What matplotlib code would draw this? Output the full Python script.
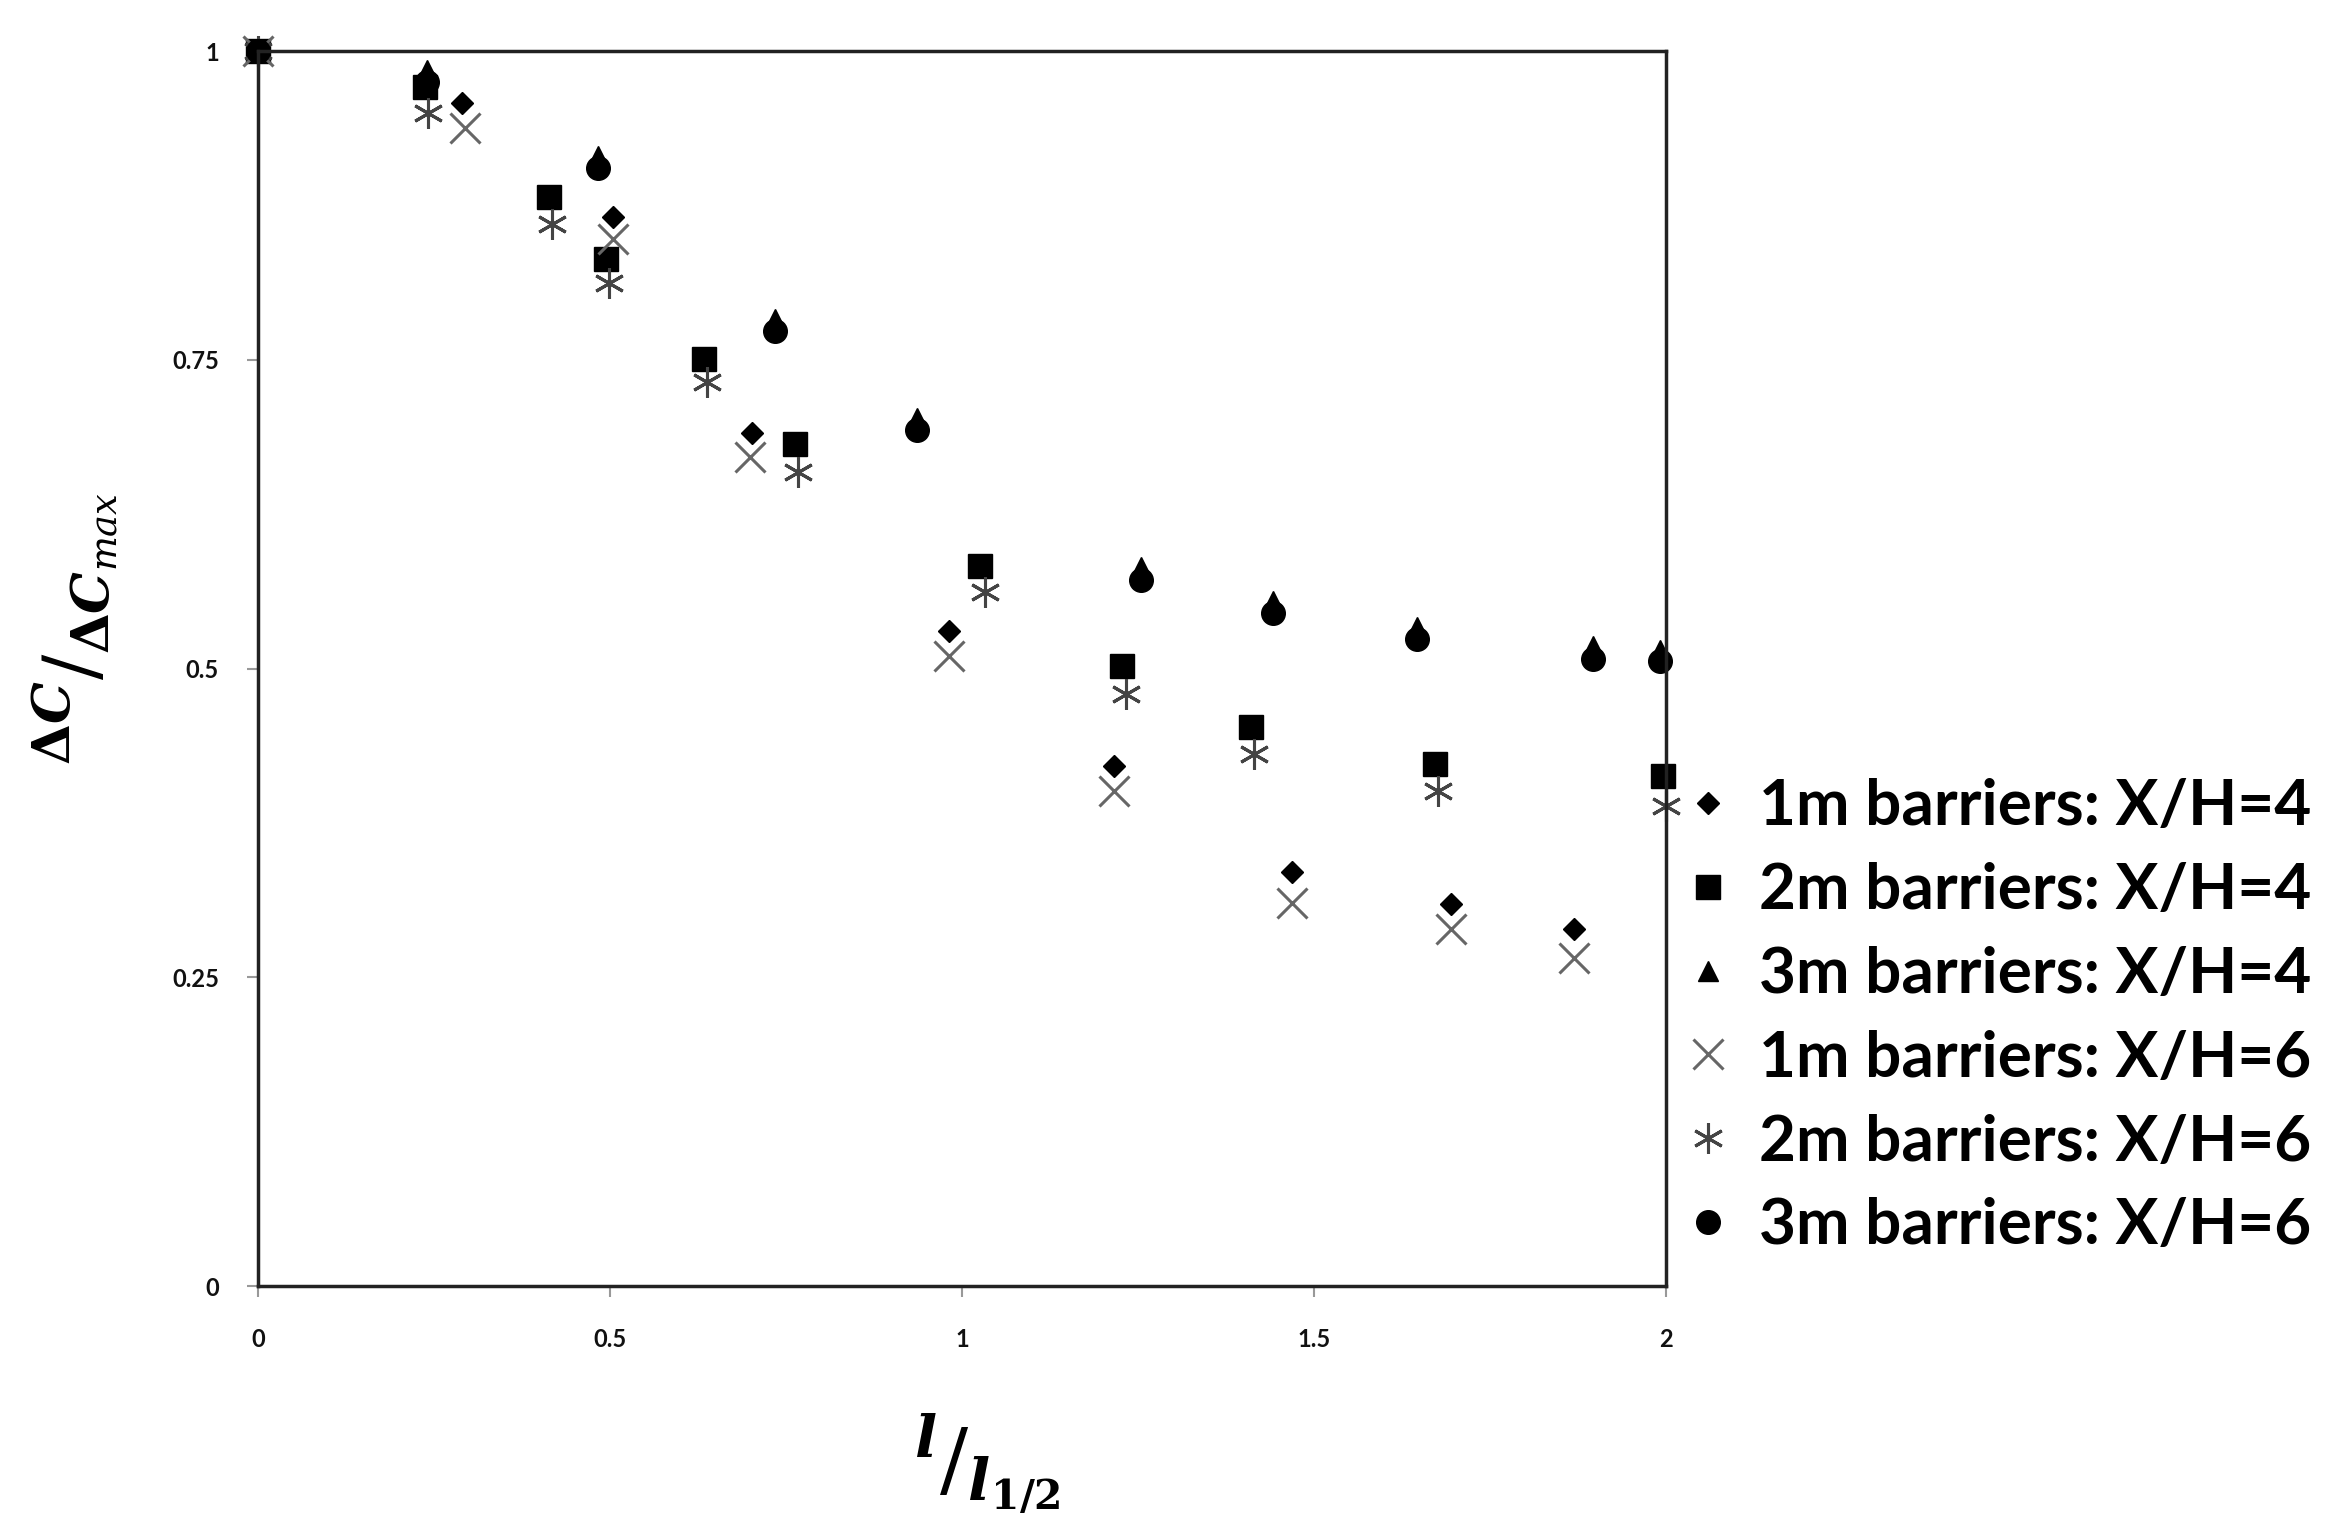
import numpy as np
import matplotlib
matplotlib.use('Agg')
import matplotlib.pyplot as plt

# 1m barriers, X/H=4 (diamonds)
x_1m_4 = [0.0, 0.29, 0.504, 0.701, 0.981, 1.216, 1.468, 1.695, 1.869]
y_1m_4 = [1.0, 0.958, 0.866, 0.691, 0.530, 0.421, 0.335, 0.309, 0.289]

# 2m barriers, X/H=4 (squares)
x_2m_4 = [0.0, 0.237, 0.413, 0.494, 0.633, 0.763, 1.025, 1.227, 1.411, 1.672, 1.996]
y_2m_4 = [1.0, 0.971, 0.882, 0.832, 0.751, 0.682, 0.583, 0.502, 0.453, 0.423, 0.413]

# 3m barriers, X/H=4 (triangles)
x_3m_4 = [0.0, 0.24, 0.483, 0.735, 0.936, 1.254, 1.441, 1.646, 1.896, 1.992]
y_3m_4 = [1.0, 0.985, 0.915, 0.783, 0.703, 0.582, 0.555, 0.534, 0.518, 0.515]

# 1m barriers, X/H=6 (crosses)
x_1m_6 = [0.0, 0.294, 0.504, 0.699, 0.981, 1.216, 1.468, 1.695, 1.869]
y_1m_6 = [1.0, 0.938, 0.848, 0.671, 0.510, 0.401, 0.310, 0.289, 0.266]

# 2m barriers, X/H=6 (asterisks)
x_2m_6 = [0.0, 0.242, 0.417, 0.498, 0.638, 0.767, 1.032, 1.233, 1.415, 1.676, 2.0]
y_2m_6 = [1.0, 0.950, 0.860, 0.812, 0.732, 0.659, 0.562, 0.479, 0.431, 0.401, 0.389]

# 3m barriers, X/H=6 (circles)
x_3m_6 = [0.0, 0.24, 0.483, 0.735, 0.936, 1.254, 1.441, 1.646, 1.896, 1.992]
y_3m_6 = [1.0, 0.975, 0.905, 0.773, 0.693, 0.572, 0.545, 0.524, 0.508, 0.506]

labels = ['1m barriers: X/H=4', '2m barriers: X/H=4', '3m barriers: X/H=4',
          '1m barriers: X/H=6', '2m barriers: X/H=6', '3m barriers: X/H=6']

fig = plt.figure(figsize=(23.39, 15.33), dpi=100)
ax = fig.add_axes([0.1103, 0.1611, 0.6020, 0.8056])

ax.plot(x_1m_4, y_1m_4, ls='none', marker='D', ms=11, color='black', clip_on=False, label=labels[0])
ax.plot(x_2m_4, y_2m_4, ls='none', marker='s', ms=17, color='black', clip_on=False, label=labels[1])
ax.plot(x_3m_4, y_3m_4, ls='none', marker='^', ms=15, color='black', clip_on=False, label=labels[2])
ax.plot(x_1m_6, y_1m_6, ls='none', marker='x', ms=21, mew=2.2, color='#666666', clip_on=False, label=labels[3])
ax.plot(x_2m_6, y_2m_6, ls='none', marker=(6, 2, 0), ms=22, mew=2.2, color='#444444', clip_on=False, label=labels[4])
ax.plot(x_3m_6, y_3m_6, ls='none', marker='o', ms=17, color='black', clip_on=False, label=labels[5])

ax.set_xlim(0, 2)
ax.set_ylim(0, 1)
ax.set_xticks([0, 0.5, 1, 1.5, 2])
ax.set_xticklabels(['0', '0.5', '1', '1.5', '2'])
ax.set_yticks([0, 0.25, 0.5, 0.75, 1])
ax.set_yticklabels(['0', '0.25', '0.5', '0.75', '1'])
for s in ax.spines.values():
    s.set_linewidth(2.5)
    s.set_color('#222222')
ax.tick_params(direction='out', length=8, width=1.5, color='#999999',
               labelsize=17, labelcolor='#111111', pad=20)
for t in ax.get_xticklabels() + ax.get_yticklabels():
    t.set_fontfamily('Lato')
    t.set_fontweight('bold')
ax.tick_params(axis='x', pad=22)

plt.rcParams['mathtext.fontset'] = 'dejavuserif'
fig.text(0.032, 0.59, r'$^{\mathbf{\Delta}\mathbfit{C}}/_{\mathbf{\Delta}\mathbfit{C}_{max}}$',
         rotation=90, fontsize=54, ha='center', va='center')
fig.text(0.422, 0.045, r'$^{\mathbfit{l}}/_{\mathbfit{l}_{\mathbf{1/2}}}$',
         fontsize=60, ha='center', va='center')

leg = fig.legend(loc='center left', bbox_to_anchor=(0.718, 0.337), frameon=False,
                 prop={'family': 'Lato', 'weight': 'bold', 'size': 46},
                 handletextpad=0.35, labelspacing=0.42, handlelength=0.9,
                 borderpad=0, borderaxespad=0)

fig.savefig('out.png', dpi=100)
